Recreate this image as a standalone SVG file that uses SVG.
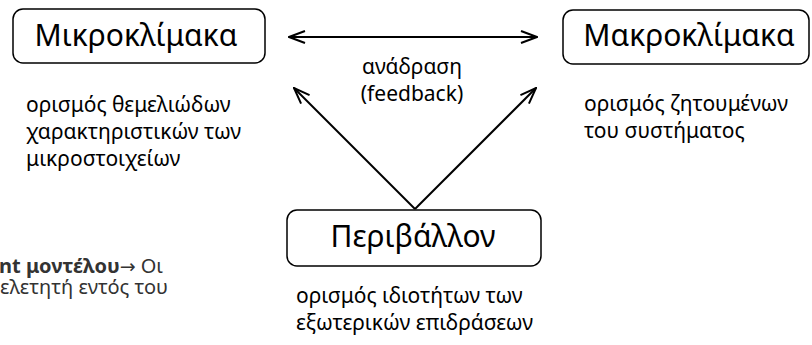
<svg xmlns="http://www.w3.org/2000/svg" width="812" height="345" viewBox="0 0 812 345">
<style>
.box{fill:#fff;stroke:#000;stroke-width:1.5}
.lbl{font-family:"Noto Sans","Open Sans",sans-serif;font-size:30px;fill:#000;text-anchor:middle}
.desc{font-family:"Noto Sans","Open Sans",sans-serif;font-size:21px;fill:#000}
.side{font-family:"Noto Sans","Open Sans",sans-serif;font-size:20px;fill:#333}
.conn{stroke:#000;stroke-width:2;fill:none}
</style>
<defs>
<marker id="ah" viewBox="0 0 18 16" refX="17" refY="8" markerWidth="18" markerHeight="16" markerUnits="userSpaceOnUse" orient="auto-start-reverse">
<path d="M1,2 L17,8 L1,14" fill="none" stroke="#000" stroke-width="2"/>
</marker>
</defs>
<rect width="812" height="345" fill="#fff"/>
<g id="connectors">
<line class="conn" x1="289" y1="37" x2="537" y2="37" marker-start="url(#ah)" marker-end="url(#ah)"/>
<line class="conn" x1="415" y1="209" x2="294" y2="88" marker-end="url(#ah)"/>
<line class="conn" x1="415" y1="209" x2="536" y2="88" marker-end="url(#ah)"/>
</g>
<g id="micro">
<rect class="box" x="13" y="9" width="252" height="54" rx="10"/>
<text class="lbl" x="136" y="46">Μικροκλίμακα</text>
</g>
<g id="macro">
<rect class="box" x="563" y="10" width="246" height="54" rx="10"/>
<text class="lbl" x="689" y="46">Μακροκλίμακα</text>
</g>
<g id="env">
<rect class="box" x="287" y="210" width="254" height="56" rx="10"/>
<text class="lbl" x="413" y="247">Περιβάλλον</text>
</g>
<g id="feedback-label">
<text class="desc" x="412" y="74" text-anchor="middle">ανάδραση</text>
<text class="desc" x="412" y="101" text-anchor="middle">(feedback)</text>
</g>
<g id="micro-desc">
<text class="desc" x="26" y="112">ορισμός θεμελιώδων</text>
<text class="desc" x="26" y="139">χαρακτηριστικών των</text>
<text class="desc" x="26" y="166">μικροστοιχείων</text>
</g>
<g id="macro-desc">
<text class="desc" x="584" y="111">ορισμός ζητουμένων</text>
<text class="desc" x="584" y="138">του συστήματος</text>
</g>
<g id="env-desc">
<text class="desc" x="296" y="303">ορισμός ιδιοτήτων των</text>
<text class="desc" x="296" y="330">εξωτερικών επιδράσεων</text>
</g>
<g id="side-text">
<text class="side" x="-1" y="273"><tspan font-weight="bold">nt μοντέλου</tspan><tspan font-family="DejaVu Sans" font-size="19">→</tspan> Οι</text>
<text class="side" x="168" y="294" text-anchor="end">ελετητή εντός του</text>
</g>
</svg>
